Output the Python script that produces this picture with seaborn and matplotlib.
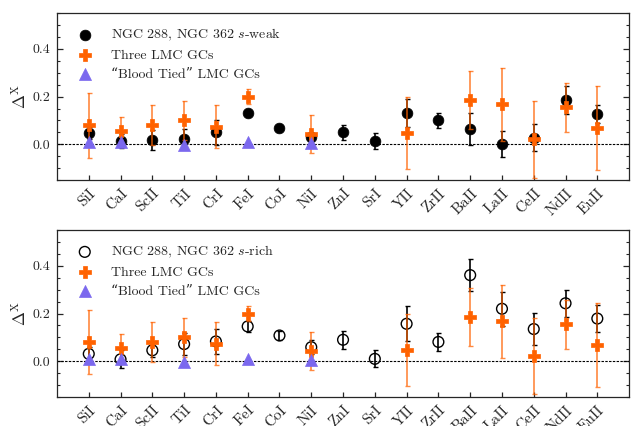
import numpy as np
import pandas as pd
import matplotlib
matplotlib.use("Agg")
import matplotlib.pyplot as plt
import matplotlib.transforms as mtransforms
from matplotlib.ticker import MultipleLocator
import seaborn as sns

# ---------------- data ----------------
elements = ['SiI', 'CaI', 'ScII', 'TiI', 'CrI', 'FeI', 'CoI', 'NiI', 'ZnI', 'SrI',
            'YII', 'ZrII', 'BaII', 'LaII', 'CeII', 'NdII', 'EuII']

weak_val = [0.048, 0.015, 0.020, 0.024, 0.050, 0.133, 0.069, 0.030, 0.051, 0.013,
            0.131, 0.101, 0.066, 0.002, 0.028, 0.185, 0.128]
weak_err = [0.025, 0.030, 0.042, 0.040, 0.052, 0.010, 0.010, 0.012, 0.031, 0.033,
            0.057, 0.031, 0.067, 0.056, 0.057, 0.058, 0.038]

rich_val = [0.031, 0.008, 0.046, 0.072, 0.083, 0.146, 0.108, 0.059, 0.090, 0.010,
            0.157, 0.081, 0.361, 0.220, 0.135, 0.243, 0.179]
rich_err = [0.030, 0.038, 0.030, 0.045, 0.053, 0.022, 0.020, 0.028, 0.038, 0.036,
            0.073, 0.036, 0.067, 0.072, 0.066, 0.056, 0.056]

lmc_val = [0.080, 0.054, 0.080, 0.100, 0.074, 0.200, np.nan, 0.042, np.nan, np.nan,
           0.047, np.nan, 0.186, 0.167, 0.021, 0.155, 0.068]
lmc_err = [0.135, 0.060, 0.083, 0.081, 0.090, 0.030, np.nan, 0.080, np.nan, np.nan,
           0.150, np.nan, 0.120, 0.152, 0.160, 0.103, 0.176]

blood_val = [0.010, 0.010, np.nan, -0.002, np.nan, 0.010, np.nan, 0.007, np.nan, np.nan,
             np.nan, np.nan, np.nan, np.nan, np.nan, np.nan, np.nan]

# ---------------- style ----------------
sns.set_style("ticks")
plt.rcParams['font.family'] = ['cmr10', 'DejaVu Serif']
plt.rcParams['mathtext.fontset'] = 'cm'
plt.rcParams['axes.formatter.use_mathtext'] = True
plt.rcParams['axes.unicode_minus'] = False

ORANGE = '#FF6200'
PURPLE = '#7B68EE'

xpos = np.arange(1, len(elements) + 1)
df = pd.DataFrame({'x': xpos, 'el': elements,
                   'weak': weak_val, 'weak_err': weak_err,
                   'rich': rich_val, 'rich_err': rich_err,
                   'lmc': lmc_val, 'lmc_err': lmc_err,
                   'blood': blood_val})

fig = plt.figure(figsize=(6.31, 4.26), dpi=100)
ax1 = fig.add_axes([0.0903, 0.577, 0.9067, 0.3925])
ax2 = fig.add_axes([0.0903, 0.068, 0.9067, 0.392])


def panel(ax, key, label, filled):
    # GC errorbars
    ax.errorbar(df['x'], df[key], yerr=df[key + '_err'], fmt='none',
                ecolor='k', elinewidth=1.2, capsize=1.8, capthick=1.0, zorder=2)
    if filled:
        sns.scatterplot(data=df, x='x', y=key, ax=ax, marker='o', s=60,
                        color='k', edgecolor='k', linewidth=0.5, label=label, zorder=3)
    else:
        sns.scatterplot(data=df, x='x', y=key, ax=ax, marker='o', s=60,
                        facecolor='none', edgecolor='k', linewidth=1.0, label=label, zorder=3)
    # LMC
    ax.errorbar(df['x'], df['lmc'], yerr=df['lmc_err'], fmt='none',
                ecolor=ORANGE, elinewidth=1.2, capsize=1.8, capthick=1.0, alpha=0.75, zorder=4)
    sns.scatterplot(data=df, x='x', y='lmc', ax=ax, marker='P', s=80,
                    color=ORANGE, edgecolor=ORANGE, linewidth=0.5,
                    label='Three LMC GCs', zorder=5)
    sns.scatterplot(data=df, x='x', y='blood', ax=ax, marker='^', s=75,
                    color=PURPLE, edgecolor=PURPLE, linewidth=0.5,
                    label='\u201cBlood Tied\u201d LMC GCs', zorder=6)
    ax.axhline(0, color='k', ls=(0, (2.2, 1.2)), lw=0.8, zorder=1)

    ax.set_xlim(0, 18)
    ax.set_ylim(-0.15, 0.55)
    ax.set_xticks(xpos)
    ax.set_xticklabels(elements, rotation=45, ha='right', rotation_mode='anchor', fontsize=11)
    offset = mtransforms.ScaledTranslation(-3 / 100, 0, fig.dpi_scale_trans)
    for lab in ax.get_xticklabels():
        lab.set_transform(lab.get_transform() + offset)
    ax.yaxis.set_major_locator(MultipleLocator(0.2))
    ax.yaxis.set_minor_locator(MultipleLocator(0.05))
    ax.yaxis.set_major_formatter(matplotlib.ticker.FormatStrFormatter('%.1f'))
    ax.tick_params(axis='y', which='both', direction='in', right=True, left=True, labelsize=10, pad=5)
    ax.tick_params(axis='y', which='major', length=4.5, width=0.9)
    ax.tick_params(axis='y', which='minor', length=2.5, width=0.8)
    ax.tick_params(axis='x', which='major', direction='in', length=3.5, width=0.9, top=False, pad=4.5)
    ax.set_xlabel('')
    ax.set_ylabel(r'$\Delta^{\rm X}$', fontsize=12, labelpad=2)
    for s in ax.spines.values():
        s.set_linewidth(0.9)
        s.set_visible(True)
    ax.legend(loc='upper left', frameon=False, fontsize=10, handletextpad=0.9,
              labelspacing=0.45, borderaxespad=0.6, markerscale=1.0)


panel(ax1, 'weak', r'NGC 288, NGC 362 $s$-weak', True)
panel(ax2, 'rich', r'NGC 288, NGC 362 $s$-rich', False)

fig.savefig('out.png', dpi=100)
